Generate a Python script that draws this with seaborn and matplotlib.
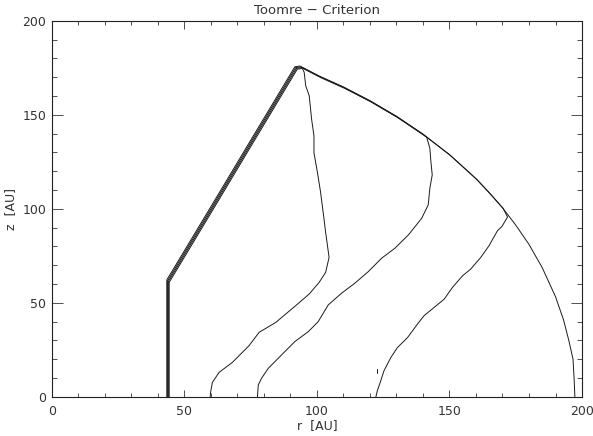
import numpy as np
import pandas as pd
import seaborn as sns
import matplotlib
matplotlib.use("Agg")
import matplotlib.pyplot as plt
from matplotlib import transforms

# shared inner wall of the disk: vertical edge then the straight cone edge up to the peak
wall_r = [43.4, 43.4, 43.4, 60.0, 75.0, 91.7, 93.6]
wall_z = [0.0, 30.0, 62.1, 101.0, 136.3, 175.5, 175.9]

# outer arc from the peak down to the midplane
arc_r = [101.0, 110.0, 120.0, 130.0, 140.0, 150.0, 160.0, 165.0, 170.0, 175.0,
         180.0, 185.0, 190.0, 193.0, 195.0, 196.6, 197.0, 197.3]
arc_z = [170.5, 164.8, 157.5, 149.2, 139.7, 128.8, 116.0, 108.5, 100.5, 91.3,
         81.0, 68.6, 53.2, 41.0, 30.0, 20.0, 10.0, 0.0]

# inner contour levels (where they leave the boundary, then down to z=0)
lev_c_split = 170.0
lev_c_r = [171.6, 169.5, 167.8, 164.6, 161.5, 157.7, 154.6, 150.8, 147.7, 143.9,
           140.1, 137.6, 133.9, 130.1, 127.6, 125.0, 123.8, 122.5, 121.9]
lev_c_z = [96.0, 91.0, 88.7, 80.7, 74.5, 68.3, 64.7, 58.5, 52.3, 47.9,
           43.5, 39.0, 31.9, 26.6, 21.3, 14.2, 8.9, 3.6, 0.0]

lev_b_split = 140.0
lev_b_r = [140.8, 142.0, 142.4, 142.9, 142.0, 141.4, 138.9, 133.9, 128.8, 123.8,
           118.8, 113.7, 108.7, 103.7, 99.9, 96.2, 91.1, 86.1, 81.1, 78.5,
           77.3, 77.0, 77.0]
lev_b_z = [139.0, 133.0, 125.9, 118.8, 111.7, 102.9, 95.7, 86.9, 79.8, 74.5,
           67.4, 61.2, 55.9, 49.7, 40.8, 35.5, 30.2, 23.1, 16.0, 10.6,
           7.1, 0.9, 0.0]

lev_a_r = [94.3, 94.9, 96.2, 97.1, 98.0, 98.0, 99.3, 100.5, 101.8, 102.4,
           103.7, 102.4, 99.9, 96.2, 91.1, 83.6, 77.3, 73.5, 67.2, 62.2,
           59.7, 59.0, 58.8]
lev_a_z = [173.9, 166.6, 161.4, 149.0, 140.0, 131.0, 120.6, 110.0, 95.7, 88.7,
           75.4, 67.4, 62.0, 55.9, 49.7, 40.8, 35.5, 28.4, 19.5, 14.2,
           8.9, 3.6, 0.0]

# tiny isolated fragment near r=123
frag_r = [122.7, 122.7]
frag_z = [12.5, 14.5]

sns.set_style("ticks")
plt.rcParams['font.family'] = ['DejaVu Sans']

fig = plt.figure(figsize=(5.93, 4.36), dpi=100)
ax = fig.add_axes([0.0872, 0.0901, 0.8943, 0.8624])


def arc_until(rmax):
    keep = [(r, z) for r, z in zip(arc_r, arc_z) if r <= rmax]
    return [k[0] for k in keep], [k[1] for k in keep]


paths = []
paths.append((wall_r + arc_r, wall_z + arc_z))
ar, az = arc_until(lev_c_split)
paths.append((wall_r + ar + lev_c_r, wall_z + az + lev_c_z))
ar, az = arc_until(lev_b_split)
paths.append((wall_r + ar + lev_b_r, wall_z + az + lev_b_z))
paths.append((wall_r + lev_a_r, wall_z + lev_a_z))

line_col = "#1a1a1a"
for i, (pr, pz) in enumerate(paths):
    df = pd.DataFrame({"r": pr, "z": pz})
    tr = transforms.offset_copy(ax.transData, fig, x=0.8 * i, y=-0.8 * i, units="dots")
    sns.lineplot(data=df, x="r", y="z", sort=False, estimator=None, ax=ax,
                 color=line_col, linewidth=0.7, transform=tr)

sns.lineplot(x=frag_r, y=frag_z, sort=False, estimator=None, ax=ax,
             color=line_col, linewidth=0.7)

ax.set_xlim(0, 200)
ax.set_ylim(0, 200)
ax.set_xticks([0, 50, 100, 150, 200])
ax.set_yticks([0, 50, 100, 150, 200])
ax.set_xticks(np.arange(0, 201, 10), minor=True)
ax.set_yticks(np.arange(0, 201, 10), minor=True)

txt_col = "#333333"
ax.tick_params(axis="x", which="major", direction="in", length=5.4, width=0.6,
               top=True, bottom=True, color=txt_col, labelsize=9, labelcolor=txt_col, pad=6)
ax.tick_params(axis="x", which="minor", direction="in", length=2.8, width=0.6,
               top=True, bottom=True, color=txt_col)
ax.tick_params(axis="y", which="major", direction="in", length=7.6, width=0.6,
               left=True, right=True, color=txt_col, labelsize=9, labelcolor=txt_col, pad=4)
ax.tick_params(axis="y", which="minor", direction="in", length=3.8, width=0.6,
               left=True, right=True, color=txt_col)

for sp in ax.spines.values():
    sp.set_visible(True)
    sp.set_linewidth(0.8)
    sp.set_color("#222222")

ax.set_xlabel("r  [AU]", fontsize=9, color=txt_col, labelpad=1)
ax.set_ylabel("z  [AU]", fontsize=9, color=txt_col, labelpad=4)
ax.set_title("Toomre \u2212 Criterion", fontsize=9.5, color=txt_col, pad=5)

fig.savefig("out.png", dpi=100)
